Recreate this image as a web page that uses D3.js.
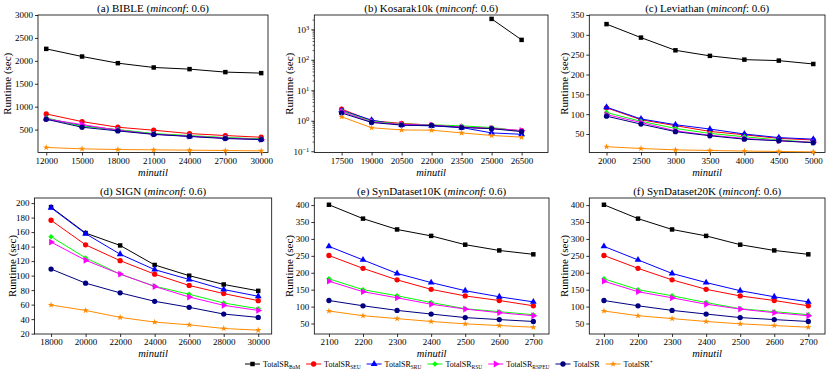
<!DOCTYPE html>
<html>
<head>
<meta charset="utf-8">
<script src="https://cdn.jsdelivr.net/npm/d3@7"></script>
<style>
body { margin: 0; background: #fff; }
svg { display: block; }
svg text { font-family: "Liberation Serif", "Times New Roman", "DejaVu Serif", serif; }
</style>
</head>
<body>
<svg width="830" height="371"></svg>
<script>
// series (legend) -- TotalSR variants
var seriesSub = ["BaM", "SEU", "SRU", "RSU", "RSPEU", "", ""];
var seriesSup = ["", "", "", "", "", "", "+"];

// (a) BIBLE
var bibleMinutil = [12000, 15000, 18000, 21000, 24000, 27000, 30000];
var bibleRuntime = [
  [2261, 2094, 1949, 1855, 1819, 1754, 1732],
  [841, 674, 551, 486, 413, 370, 333],
  [740, 587, 493, 406, 355, 319, 290],
  [754, 572, 500, 413, 370, 326, 297],
  [732, 609, 486, 399, 355, 312, 283],
  [725, 551, 471, 395, 350, 304, 283],
  [109, 80, 65, 58, 51, 43, 36]
];

// (b) Kosarak10k (log scale, BaM only finished for the two largest minutil)
var kosarakMinutil = [17500, 19000, 20500, 22000, 23500, 25000, 26500];
var kosarakRuntime = [
  [null, null, null, null, null, 2200, 450],
  [2.4, 1.0, 0.82, 0.72, 0.62, 0.57, 0.47],
  [2.2, 1.05, 0.72, 0.68, 0.60, 0.40, 0.36],
  [2.1, 0.95, 0.78, 0.74, 0.68, 0.60, 0.46],
  [2.0, 0.90, 0.76, 0.72, 0.62, 0.56, 0.48],
  [1.8, 0.88, 0.72, 0.70, 0.60, 0.55, 0.44],
  [1.35, 0.59, 0.50, 0.49, 0.40, 0.33, 0.29]
];

// (c) Leviathan
var leviathanMinutil = [2000, 2500, 3000, 3500, 4000, 4500, 5000];
var leviathanRuntime = [
  [327, 293, 261, 247, 237.5, 235, 226.5],
  [116, 86, 71, 56.6, 48, 39, 35],
  [117.5, 88, 73.5, 62.5, 50, 41, 37],
  [104, 82, 64, 51.5, 43, 35, 29],
  [99, 79, 58, 47, 39, 33, 29],
  [95, 75, 56, 45.6, 37, 33, 28],
  [18, 13.5, 10, 8.5, 7, 6, 5]
];

// (d) SIGN
var signMinutil = [18000, 20000, 22000, 24000, 26000, 28000, 30000];
var signRuntime = [
  [194.4, 158.7, 141.6, 114.7, 99.9, 87.8, 79],
  [176.3, 142.4, 120.6, 102, 86.4, 75.2, 65.5],
  [193.5, 157.8, 129.5, 108.2, 94.7, 80.8, 71.5],
  [153.6, 124.4, 102.1, 85.4, 74.3, 62.2, 54.3],
  [146.2, 121.2, 102.1, 85, 70.5, 59, 52],
  [109, 89.6, 76.2, 64.6, 56.3, 47, 42.4],
  [59.5, 52, 42.4, 35.9, 32.2, 27.1, 24.8]
];

// (e) SynDataset10K
var syn10kMinutil = [2100, 2200, 2300, 2400, 2500, 2600, 2700];
var syn10kRuntime = [
  [401, 360, 328, 309, 283, 266, 254.5],
  [251, 213, 179, 151, 131.5, 118, 102.4],
  [278, 238, 198, 171, 147, 129, 114],
  [182, 150, 132, 112, 93.7, 85, 76],
  [175, 144, 126, 107, 92.7, 82, 73],
  [118, 102.4, 88.8, 78, 67.5, 61.6, 56],
  [87, 73, 64.5, 56, 49, 44, 39]
];

// (f) SynDataset20K
var syn20kMinutil = [2100, 2200, 2300, 2400, 2500, 2600, 2700];
var syn20kRuntime = [
  [401, 360, 328, 309, 283, 266, 254.5],
  [251, 213, 179, 151, 131.5, 118, 102.4],
  [278, 238, 198, 171, 147, 129, 114],
  [182, 150, 132, 112, 93.7, 85, 76],
  [175, 144, 126, 107, 92.7, 82, 73],
  [118, 102.4, 88.8, 78, 67.5, 61.6, 56],
  [87, 73, 64.5, 56, 49, 44, 39]
];

var seriesColor = ["#000000", "#ff0000", "#0000ff", "#00ff00", "#ff00ff", "#000080", "#ff8c00"];
var seriesMarker = ["square", "circle", "triangle", "diamond", "triright", "circle", "star"];

var serif = "Liberation Serif, Times New Roman, DejaVu Serif, serif";

var panels = [
  {tag: "(a)", name: "BIBLE", x: bibleMinutil, y: bibleRuntime, box: [38, 15, 268, 152.5], pad: [0.23, 0.19],
   yDomain: [0, 3000], yTicks: d3.range(500, 3001, 500), ylabX: 7},
  {tag: "(b)", name: "Kosarak10k", x: kosarakMinutil, y: kosarakRuntime, box: [314.3, 15, 548, 152.5], pad: [0.91, 0.88],
   yDomain: [0.091, 2950], log: true, yTicks: [0.1, 1, 10, 100, 1000], ylabX: 289},
  {tag: "(c)", name: "Leviathan", x: leviathanMinutil, y: leviathanRuntime, box: [589.3, 15, 825, 152.5], pad: [0.5, 0.34],
   yDomain: [3.4, 350], yTicks: d3.range(50, 351, 50), ylabX: 564},
  {tag: "(d)", name: "SIGN", x: signMinutil, y: signRuntime, box: [34.5, 198, 271.7, 334], pad: [0.48, 0.39],
   yDomain: [19.5, 207], yTicks: d3.range(20, 201, 20), ylabX: 11.5},
  {tag: "(e)", name: "SynDataset10K", x: syn10kMinutil, y: syn10kRuntime, box: [314.3, 198, 549, 334], pad: [0.43, 0.46],
   yDomain: [19, 421], yTicks: d3.range(50, 401, 50), ylabX: 289},
  {tag: "(f)", name: "SynDataset20K", x: syn20kMinutil, y: syn20kRuntime, box: [589.3, 198, 825, 334], pad: [0.43, 0.49],
   yDomain: [19, 421], yTicks: d3.range(50, 401, 50), ylabX: 564}
];

var svg = d3.select("svg").attr("font-family", serif);
svg.append("rect").attr("width", 830).attr("height", 371).attr("fill", "#fff");

function markerPath(kind) {
  if (kind == "square") return d3.symbol().type(d3.symbolSquare).size(20)();
  if (kind == "circle") return d3.symbol().type(d3.symbolCircle).size(22)();
  if (kind == "triangle") return d3.symbol().type(d3.symbolTriangle).size(20)();
  if (kind == "diamond") return d3.symbol().type(d3.symbolSquare).size(15)();
  if (kind == "triright") return d3.symbol().type(d3.symbolTriangle).size(20)();
  return d3.symbol().type(d3.symbolStar).size(13)();
}
function markerRotate(kind) {
  if (kind == "diamond") return 45;
  if (kind == "triright") return 90;
  return 0;
}

panels.forEach(function(p) {
  var g = svg.append("g");
  var n = p.x.length, step = p.x[1] - p.x[0];
  var left = p.box[0], top = p.box[1], right = p.box[2], bottom = p.box[3];

  var x = d3.scaleLinear()
      .domain([p.x[0] - p.pad[0] * step, p.x[n - 1] + p.pad[1] * step])
      .range([left, right]);
  var y = (p.log ? d3.scaleLog() : d3.scaleLinear())
      .domain(p.yDomain)
      .range([bottom, top]);

  // x axis
  var xa = g.append("g")
      .attr("transform", "translate(0," + bottom + ")")
      .call(d3.axisBottom(x).tickValues(p.x).tickFormat(d3.format("d")).tickSize(3).tickPadding(2));

  // y axis
  var ya = g.append("g")
      .attr("transform", "translate(" + left + ",0)")
      .call(d3.axisLeft(y).tickValues(p.yTicks).tickFormat(p.log ? function() { return ""; } : d3.format("d")).tickSize(3).tickPadding(2));

  if (p.log) {
    ya.selectAll(".tick text").each(function(d) {
      var t = d3.select(this);
      var e = Math.round(Math.log10(d));
      t.text("10");
      t.append("tspan").attr("dy", "-0.45em").attr("font-size", "6.5px").text(e < 0 ? "\u2212" + (-e) : e);
    });
    // minor ticks
    var minors = [];
    [-2, -1, 0, 1, 2, 3].forEach(function(k) {
      for (var m = 2; m < 10; m++) {
        var v = m * Math.pow(10, k);
        if (v > p.yDomain[0] && v < p.yDomain[1]) minors.push(v);
      }
    });
    g.append("g").selectAll("line").data(minors).enter().append("line")
        .attr("x1", left).attr("x2", left - 1.8)
        .attr("y1", function(d) { return y(d); }).attr("y2", function(d) { return y(d); })
        .attr("stroke", "#000").attr("stroke-width", 0.6);
  }

  [xa, ya].forEach(function(a) {
    a.attr("font-family", serif).attr("font-size", null);
    a.select(".domain").remove();
    a.selectAll(".tick line").attr("stroke", "#000").attr("stroke-width", 0.8);
    a.selectAll(".tick text").attr("fill", "#000").attr("font-size", "9px");
  });

  // frame
  g.append("rect")
      .attr("x", left).attr("y", top)
      .attr("width", right - left).attr("height", bottom - top)
      .attr("fill", "none").attr("stroke", "#000").attr("stroke-width", 0.8);

  // series
  var line = d3.line()
      .defined(function(d) { return d[1] != null; })
      .x(function(d) { return x(d[0]); })
      .y(function(d) { return y(d[1]); });

  p.y.forEach(function(vals, i) {
    var pts = p.x.map(function(xv, j) { return [xv, vals[j]]; });
    g.append("path")
        .datum(pts)
        .attr("d", line)
        .attr("fill", "none")
        .attr("stroke", seriesColor[i])
        .attr("stroke-width", 1);
    g.append("g").selectAll("path")
        .data(pts.filter(function(d) { return d[1] != null; }))
        .enter().append("path")
        .attr("d", markerPath(seriesMarker[i]))
        .attr("transform", function(d) {
          return "translate(" + x(d[0]) + "," + y(d[1]) + ") rotate(" + markerRotate(seriesMarker[i]) + ")";
        })
        .attr("fill", seriesColor[i]);
  });

  // title
  var title = g.append("text")
      .attr("x", (left + right) / 2).attr("y", top - 3.5)
      .attr("text-anchor", "middle").attr("font-size", "11px");
  title.append("tspan").text(p.tag + " " + p.name + " (");
  title.append("tspan").attr("font-style", "italic").text("minconf");
  title.append("tspan").text(": 0.6)");

  // axis labels
  g.append("text")
      .attr("x", (left + right) / 2).attr("y", bottom + 23)
      .attr("text-anchor", "middle").attr("font-size", "10.5px").attr("font-style", "italic")
      .text("minutil");
  g.append("text")
      .attr("transform", "translate(" + p.ylabX + "," + (top + bottom) / 2 + ") rotate(-90)")
      .attr("text-anchor", "middle").attr("dominant-baseline", "central").attr("font-size", "11px")
      .text("Runtime (sec)");
});

// legend
var legend = svg.append("g").attr("transform", "translate(245,364)");
var lx = 0;
seriesSub.forEach(function(sub, i) {
  var item = legend.append("g").attr("transform", "translate(" + lx + ",0)");
  item.append("line").attr("x1", 0).attr("x2", 15).attr("y1", 0).attr("y2", 0)
      .attr("stroke", seriesColor[i]).attr("stroke-width", 1);
  item.append("path").attr("d", markerPath(seriesMarker[i]))
      .attr("transform", "translate(7.5,0) rotate(" + markerRotate(seriesMarker[i]) + ")")
      .attr("fill", seriesColor[i]);
  var t = item.append("text").attr("x", 18).attr("y", 3).attr("font-size", "8px").text("TotalSR");
  if (sub) t.append("tspan").attr("dy", "2.2").attr("font-size", "5.5px").text(sub);
  if (seriesSup[i]) t.append("tspan").attr("dy", "-3").attr("font-size", "5.5px").text(seriesSup[i]);
  lx += 18 + t.node().getComputedTextLength() + 6;
});
</script>
</body>
</html>
